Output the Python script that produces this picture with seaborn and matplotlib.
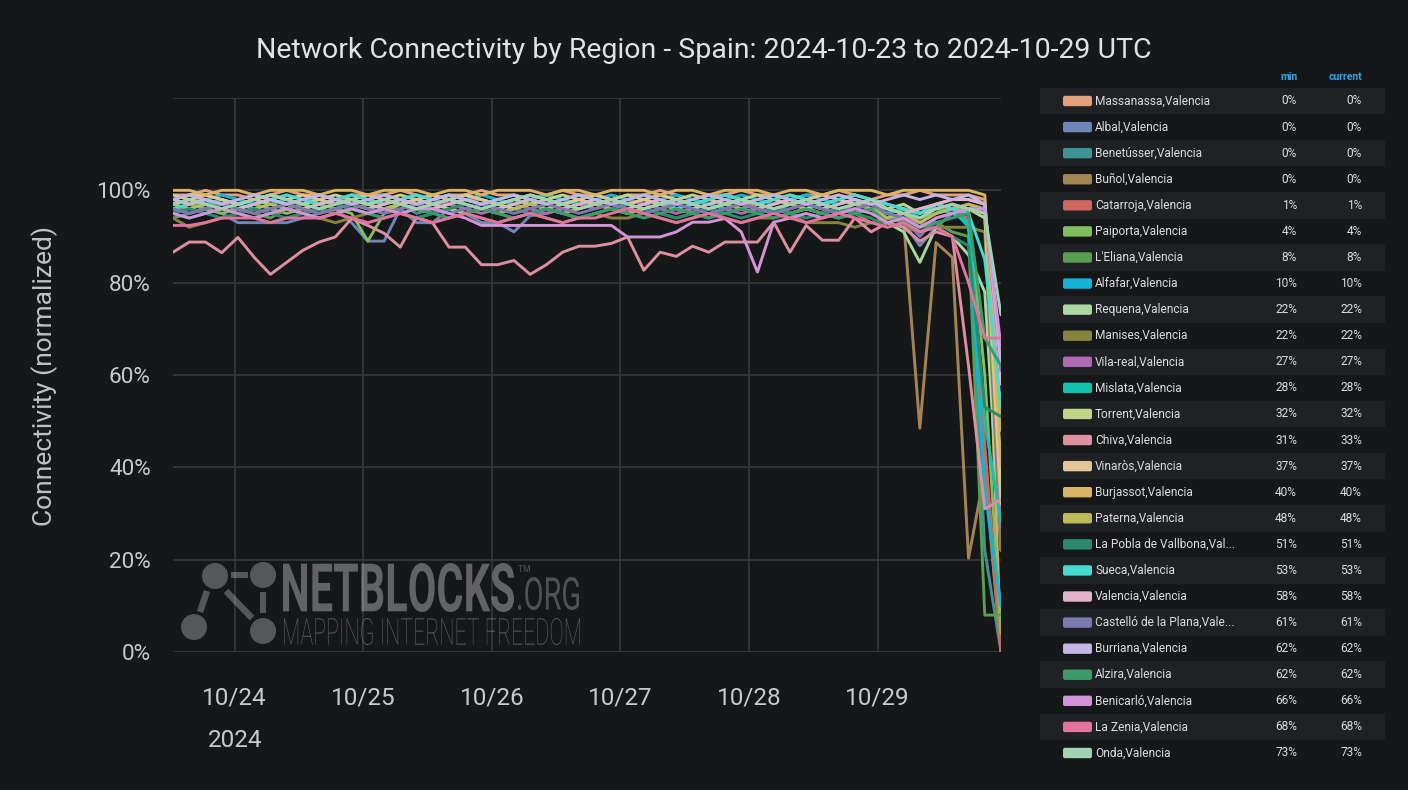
import numpy as np
import pandas as pd
import matplotlib
matplotlib.use("Agg")
import matplotlib.pyplot as plt
import seaborn as sns
from matplotlib.textpath import TextPath
from matplotlib.font_manager import FontProperties
from matplotlib.patches import PathPatch, Circle, Rectangle, FancyBboxPatch, Polygon
from matplotlib.transforms import Affine2D

# ---------------- data ----------------
title = "Network Connectivity by Region - Spain: 2024-10-23 to 2024-10-29 UTC"
y_label = "Connectivity (normalized)"
times = pd.date_range("2024-10-23 12:30", "2024-10-29 23:00", periods=52)
x_tick_days = pd.to_datetime(["2024-10-24", "2024-10-25", "2024-10-26",
                              "2024-10-27", "2024-10-28", "2024-10-29"])
x_tick_labels = ["10/24\n2024", "10/25", "10/26", "10/27", "10/28", "10/29"]
y_ticks = [0, 20, 40, 60, 80, 100, 120]
y_tick_labels = ["0%", "20%", "40%", "60%", "80%", "100%", ""]

regions = ["Massanassa,Valencia", "Albal,Valencia", "Benetússer,Valencia", "Buñol,Valencia",
           "Catarroja,Valencia", "Paiporta,Valencia", "L'Eliana,Valencia", "Alfafar,Valencia",
           "Requena,Valencia", "Manises,Valencia", "Vila-real,Valencia", "Mislata,Valencia",
           "Torrent,Valencia", "Chiva,Valencia", "Vinaròs,Valencia", "Burjassot,Valencia",
           "Paterna,Valencia", "La Pobla de Vallbona,Valencia", "Sueca,Valencia",
           "Valencia,Valencia", "Castelló de la Plana,Valencia", "Burriana,Valencia",
           "Alzira,Valencia", "Benicarló,Valencia", "La Zenia,Valencia", "Onda,Valencia"]
legend_labels = ["Massanassa,Valencia", "Albal,Valencia", "Benetússer,Valencia", "Buñol,Valencia",
                 "Catarroja,Valencia", "Paiporta,Valencia", "L'Eliana,Valencia", "Alfafar,Valencia",
                 "Requena,Valencia", "Manises,Valencia", "Vila-real,Valencia", "Mislata,Valencia",
                 "Torrent,Valencia", "Chiva,Valencia", "Vinaròs,Valencia", "Burjassot,Valencia",
                 "Paterna,Valencia", "La Pobla de Vallbona,Val...", "Sueca,Valencia",
                 "Valencia,Valencia", "Castelló de la Plana,Vale...", "Burriana,Valencia",
                 "Alzira,Valencia", "Benicarló,Valencia", "La Zenia,Valencia", "Onda,Valencia"]
colors = ["#e5a07d", "#6f87b8", "#3c9494", "#a48455", "#d0665f", "#7fbf5f", "#5a9f4f",
          "#12b3d4", "#a8d8a0", "#84843f", "#b06bb5", "#14c3ae", "#c2d487", "#de8fa0",
          "#e3c597", "#dbb463", "#bbbb58", "#2b8a6c", "#47dad0", "#e2b3c9", "#7c79b0",
          "#c3b6e6", "#3b9b6b", "#d394d9", "#e3739d", "#a3d1b3"]

massanassa = [99,99,100,99,99,98,99,100,99,99,98,99,99,
              99,100,99,98,99,99,100,99,99,98,99,100,99,
              99,98,99,99,100,99,98,99,99,100,99,99,98,
              99,99,100,99,98,99,99,100,99,99,99,98,0]
albal = [97,98,96,95,93,93,93,93,94,95,96,93,89,
         89,96,93,93,96,95,93,93,91,94.5,95,96,97,
         97,96,95,96,97,96,95,94,96,97,96,95,96,
         97,96,95,97,96,95,93,88,92,95,94,40,0]
benetusser = [95,97,96,98,97,96,95,96,97,98,97,96,95,
              96,97,95,96,98,99,98,97,96,95,96,97,98,
              97,96,95,96,97,98,97,96,97,98,96,95,97,
              96,97,98,97,96,94,95,92,97,96,95,22,0]
bunol = [97,98,98,97,96,97,98,97,96,97,98,97,96,
         97,98,97,96,97,98,98,97,96,97,98,97,96,
         97,98,97,96,97,98,97,96,95,96,97,96,95,
         96,95,94,95,93,94,93.5,48.5,88.7,85.5,20.3,39,0]
catarroja = [98,99,98,97,98,99,98,97,98,99,98,98,97,
             98,97,98,99,98,97,96,97,98,99,98,97,98,
             99,98,97,98,99,98,97,98,99,98,96,97,98,
             97,98,99,98,96,95,96,93,95,97,93,45,1]
paiporta = [96,97,96,95,96,97,96,95,96,97,96,95,89,
            95,97,96,97,98,97,96,95,96,97,96,95,96,
            97,96,95,96,97,96,95,96,97,98,97,96,97,
            98,97,96,95,96,95,96,94,95,96,96,60,4]
leliana = [94,95,96,97,96,95,94,96,97,96,95,96,97,
           96,95,94,95,96,97,96,95,96,97,96,95,94,
           95,96,97,96,95,94,95,96,97,96,95,96,97,
           96,95,94,95,96,94,93,92,93,91,90,8,8]
alfafar = [98,97,98,99,98,97,98,99,98,97,98,99,98,
           97,98,99,98,97,98,99,98,97,98,99,98,97,
           98,99,98,97,98,99,98,97,98,99,98,97,98,
           99,98,97,98,97,96,95,96,97,96,92,35,10]
requena = [97,98,97,96,97,98,97,96,95,96,97,98,97,
           96,97,98,97,96,95,96,97,98,97,96,97,98,
           97,96,97,98,97,96,95,96,97,98,97,96,95,
           96,97,96,95,96,93,91,84.4,92,90,86,78,22]
manises = [94,92,93,94,95,94,93,94,95,94,93,94,95,
           94,95,94,93,94,95,94,93,94,95,94,93,94,
           95,94,94,95,94,93,94,95,94,93,94,94,95,
           93,93,93,92,93,93,92,91,92,92,92,91,22]
vila_real = [96,95,96,97,96,95,96,97,96,95,96,97,96,
             95,96,97,98,97,96,95,96,97,96,95,96,97,
             96,97,98,97,96,95,96,97,96,95,96,97,98,
             97,96,95,96,97,95,94,93,95,96,97,95,27]
mislata = [97,96,97,98,97,96,97,98,97,99,98,97,98,
           99,98,97,98,99,98,97,96,97,98,99,98,97,
           98,97,96,95,96,97,98,97,96,97,98,99,98,
           97,96,97,98,97,95,96,94,96,95,93,50,28]
torrent = [99,98,99,98,97,98,99,98,97,98,99,98,97,
           98,99,98,97,98,99,98,97,96,97,98,99,98,
           97,98,99,98,97,98,99,98,97,98,99,98,97,
           98,97,98,99,98,96,97,95,96,97,96,94,32]
chiva = [86.6,88.8,88.8,86.5,89.8,85.5,81.8,84.4,87.0,88.8,89.9,93.9,92.4,
         90.7,87.7,94.2,92.9,87.7,87.7,83.9,83.9,84.8,81.8,83.9,86.6,87.9,
         87.9,88.5,89.9,82.7,86.6,85.7,87.9,86.6,88.8,88.8,88.8,93.1,86.6,
         92.4,89.2,89.2,94,91,93,92,89,91,90,62,31,33]
vinaros = [98,99,99,98,97,98,99,98,99,98,97,98,99,
           98,97,98,99,98,99,98,97,98,99,98,97,98,
           99,98,97,98,99,98,97,98,99,98,97,98,99,
           98,99,98,97,98,97,96,95,97,98,98,97,37]
burjassot = [100,100,99,100,100,99,100,100,100,99,100,100,99,
             100,100,100,99,100,100,99,100,100,100,99,100,100,
             99,100,100,100,99,100,100,99,100,100,100,99,100,
             100,99,100,100,100,99,100,100,100,100,100,99,40]
paterna = [97,96,97,96,95,96,97,96,95,96,97,96,95,
           96,97,96,95,96,97,96,95,96,97,96,95,96,
           97,96,95,96,97,96,95,96,97,96,95,96,97,
           96,95,96,97,96,94,95,93,95,96,97,96,48]
la_pobla = [95,96,95,94,95,96,95,94,95,96,97,96,95,
            96,95,94,95,96,97,96,95,94,95,96,95,94,
            95,96,97,96,95,94,95,96,95,94,95,96,95,
            94,95,96,95,94,92,93,91,92,90,88,53,51]
sueca = [96,97,98,97,96,97,98,99,98,97,98,99,98,
         97,98,99,98,99,98,97,98,99,98,97,98,99,
         98,97,98,99,98,96,97,98,99,98,97,98,99,
         98,97,98,99,98,97,96,95,97,96,95,85,53]
valencia = [98,97,98,97,96,97,98,97,96,97,98,97,96,
            97,98,97,96,97,98,97,96,97,98,97,96,97,
            98,97,96,97,98,97,96,97,98,97,96,97,98,
            97,96,97,98,97,96,95,96,97,98,98,97,58]
castello = [96,95,96,97,96,95,96,97,96,95,96,97,96,
            95,96,97,96,95,96,97,96,95,96,97,96,95,
            96,97,96,95,96,97,96,95,96,97,96,95,96,
            97,96,95,96,97,95,94,90,94,95,96,96,61]
burriana = [98,99,98,97,98,99,98,97,98,99,98,97,98,
            99,98,97,98,99,98,97,98,99,98,97,98,99,
            98,97,98,99,98,97,98,99,98,97,98,99,98,
            97,98,99,98,97,98,99,98,99,98,99,97,62]
alzira = [95,94,95,96,95,94,95,96,95,94,95,96,95,
          94,95,96,95,94,95,96,95,94,95,96,95,94,
          95,96,95,94,95,96,95,94,95,96,95,94,95,
          96,95,94,95,96,93,94,91,93,94,95,68,62]
benicarlo = [95,94,95,96,95,94,95,96,95,94,95,96,95,
             96,95,96,96,95,94,92.4,92.4,92.4,92.4,92.4,92.4,92.4,
             92.4,92.4,89.9,89.9,89.9,91,93.1,93.1,93.9,91,82.3,93.1,94,
             95,94,95,96,95,93,94,92,94,95,96,96,66]
la_zenia = [92.4,92.4,93,94,94,94,93,94,94,94,95,94,93,
            94,95,94,93,94,95,94,93,94,95,94,93,94,
            94,95,96,95,94,93,94,95,94,93,94,95,94,
            93,94,95,94,93,92,93,91,92,90,80,68,68]
onda = [97,98,97,96,97,98,99,98,97,96,97,98,97,
        98,97,96,97,98,97,96,97,98,99,98,97,96,
        97,98,97,96,97,98,97,96,97,98,97,96,97,
        98,97,96,97,98,96,95,94,96,97,96,95,73]

series = [massanassa, albal, benetusser, bunol, catarroja, paiporta, leliana, alfafar,
          requena, manises, vila_real, mislata, torrent, chiva, vinaros, burjassot,
          paterna, la_pobla, sueca, valencia, castello, burriana, alzira, benicarlo,
          la_zenia, onda]

df = pd.DataFrame({
    "time": np.tile(times, len(regions)),
    "region": np.repeat(regions, len(times)),
    "value": np.concatenate([np.asarray(s, dtype=float) for s in series]),
})

# ---------------- style ----------------
BG = "#161719"
sns.set_style("dark", rc={"axes.facecolor": BG, "figure.facecolor": BG,
                          "grid.color": "#36373a", "axes.edgecolor": BG})
plt.rcParams["font.family"] = ["Roboto", "DejaVu Sans"]

W, H = 1408, 790
fig = plt.figure(figsize=(W / 100, H / 100), dpi=100, facecolor=BG)
ax = fig.add_axes([173 / W, (H - 652) / H, (1001 - 173) / W, (652 - 98) / H])
ax.set_facecolor(BG)

sns.lineplot(data=df, x="time", y="value", hue="region", hue_order=regions,
             palette=dict(zip(regions, colors)), estimator=None, legend=False,
             linewidth=2.1, ax=ax)

ax.set_xlim(times[0], times[-1])
ax.set_ylim(0, 120)
ax.set_yticks(y_ticks)
ax.set_yticklabels(y_tick_labels)
ax.set_xticks(x_tick_days)
ax.set_xticklabels(x_tick_labels, linespacing=2.05)
ax.set_xlabel("")
ax.set_ylabel("")
ax.grid(True, color="#37383b", linewidth=1.2)
for sp in ax.spines.values():
    sp.set_visible(False)
ax.tick_params(axis="both", length=0, labelcolor="#c9cacc")
ax.tick_params(axis="x", pad=25, labelsize=17.5)
ax.tick_params(axis="y", pad=16, labelsize=16.2)

fig.text(0.5, 1 - 50 / H, title, ha="center", va="center", fontsize=20.5, color="#e1e2e3")
fig.text(45 / W, 1 - 376 / H, y_label, rotation=90, ha="center", va="center",
         fontsize=19, color="#c0c1c3")

T = fig.dpi_scale_trans


def P(x, y):
    return (x / 100, (H - y) / 100)


# ---------------- watermark ----------------
def fit_text(s, x0, y0, x1, y1, weight, alpha):
    fp = FontProperties(family="Roboto", weight=weight)
    tp = TextPath((0, 0), s, size=100, prop=fp)
    ext = tp.get_extents()
    sx = (x1 - x0) / ext.width / 100
    sy = (y1 - y0) / ext.height / 100
    tr = (Affine2D().translate(-ext.x0, -ext.y0).scale(sx, sy)
          .translate(x0 / 100, (H - y1) / 100) + T)
    fig.add_artist(PathPatch(tp, transform=tr, facecolor="white", edgecolor="none",
                             alpha=alpha, zorder=5))


fit_text("NETBLOCKS", 283, 563, 514, 612, "bold", 0.33)
fit_text(".ORG", 518, 577, 579, 610, "normal", 0.25)
fit_text("TM", 518, 565, 530, 572, "normal", 0.25)
fit_text("MAPPING INTERNET FREEDOM", 284, 618, 580, 645, "light", 0.30)

wm = dict(facecolor="white", edgecolor="none", alpha=0.28, zorder=5, transform=T)
for cx, cy in [(215, 576), (263, 575), (194, 627), (263, 631)]:
    fig.add_artist(Circle(P(cx, cy), 13 / 100, **wm))


def bar(xa, ya, xb, yb, w=6.5):
    dx, dy = xb - xa, yb - ya
    L = np.hypot(dx, dy)
    nx, ny = -dy / L * w / 2, dx / L * w / 2
    pts = [P(xa + nx, ya + ny), P(xb + nx, yb + ny), P(xb - nx, yb - ny), P(xa - nx, ya - ny)]
    fig.add_artist(Polygon(pts, closed=True, **wm))


bar(231, 575, 248, 575)
bar(207, 591, 200, 612)
bar(226, 591, 252, 618)
bar(263, 592, 263, 613)

# ---------------- legend table ----------------
fig.text(1289 / W, 1 - 77 / H, "min", ha="center", va="center", fontsize=7.5,
         color="#33a2e5", fontweight="bold")
fig.text(1362 / W, 1 - 77 / H, "current", ha="right", va="center", fontsize=7.5,
         color="#33a2e5", fontweight="bold")
row_h = 26.08
for i, (lab, col, s) in enumerate(zip(legend_labels, colors, series)):
    yc = 101 + i * row_h
    if i % 2 == 0:
        fig.add_artist(Rectangle(P(1040, yc + 13.3), 345 / 100, 26.6 / 100,
                                 facecolor="#202124", edgecolor="none", transform=T, zorder=1))
    fig.add_artist(FancyBboxPatch(P(1063, yc + 5.2), 29 / 100, 10.4 / 100,
                                  boxstyle="round,pad=0,rounding_size=0.02",
                                  facecolor=col, edgecolor="none", transform=T, zorder=2))
    fig.text(1095 / W, 1 - yc / H, lab, ha="left", va="center", fontsize=8.6,
             color="#dcdde0", zorder=3)
    vals = np.asarray(s, dtype=float)
    fig.text(1297 / W, 1 - yc / H, f"{round(vals.min()):d}%", ha="right", va="center",
             fontsize=8.6, color="#dcdde0", zorder=3)
    fig.text(1362 / W, 1 - yc / H, f"{round(vals[-1]):d}%", ha="right", va="center",
             fontsize=8.6, color="#dcdde0", zorder=3)

fig.savefig("out.png", dpi=100, facecolor=BG)
